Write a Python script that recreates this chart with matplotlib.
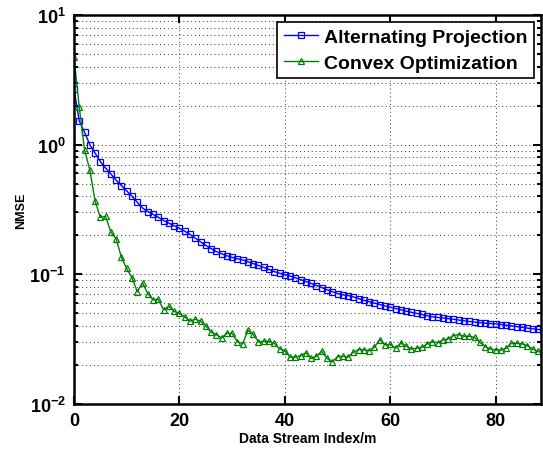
import numpy as np
import matplotlib
matplotlib.use("Agg")
import matplotlib.pyplot as plt
from matplotlib.ticker import FixedLocator, NullFormatter

plt.rcParams['font.family'] = ['Liberation Sans', 'DejaVu Sans']
plt.rcParams['font.weight'] = 'bold'
plt.rcParams['mathtext.fontset'] = 'custom'
plt.rcParams['mathtext.rm'] = 'Liberation Sans:bold'
plt.rcParams['mathtext.bf'] = 'Liberation Sans:bold'

# NMSE per data stream index
ap_nmse = [2.69, 1.52, 1.245, 1.0, 0.86, 0.74, 0.66, 0.594, 0.532, 0.483,
           0.44, 0.40, 0.36, 0.325, 0.305, 0.29, 0.275, 0.26, 0.248, 0.237,
           0.227, 0.215, 0.203, 0.19, 0.178, 0.167, 0.158, 0.150, 0.144, 0.139,
           0.135, 0.132, 0.129, 0.125, 0.121, 0.117, 0.113, 0.109, 0.105, 0.102,
           0.0995, 0.097, 0.094, 0.091, 0.088, 0.085, 0.082, 0.079, 0.076, 0.0735,
           0.071, 0.0694, 0.0686, 0.067, 0.065, 0.063, 0.0615, 0.060, 0.0585, 0.057,
           0.0557, 0.0545, 0.0533, 0.052, 0.051, 0.050, 0.049, 0.048, 0.047, 0.0465,
           0.0461, 0.0455, 0.045, 0.0444, 0.0438, 0.0433, 0.0428, 0.0424, 0.042, 0.0417,
           0.0415, 0.041, 0.0405, 0.040, 0.0395, 0.039, 0.0385, 0.038, 0.0376, 0.037]

co_nmse = [4.72, 1.94, 0.91, 0.64, 0.368, 0.275, 0.28, 0.211, 0.188, 0.135,
           0.111, 0.094, 0.0736, 0.086, 0.071, 0.0637, 0.064, 0.0533, 0.0565, 0.0517,
           0.050, 0.047, 0.0436, 0.045, 0.0436, 0.040, 0.0358, 0.0343, 0.0324, 0.0350,
           0.0350, 0.0302, 0.0292, 0.0370, 0.0344, 0.0302, 0.0304, 0.0305, 0.0294, 0.0266,
           0.0258, 0.0230, 0.0230, 0.0236, 0.0248, 0.0225, 0.0233, 0.0255, 0.0225, 0.0212,
           0.0232, 0.0233, 0.0230, 0.0251, 0.0263, 0.0262, 0.0258, 0.0274, 0.0314, 0.0286,
           0.0289, 0.0269, 0.0294, 0.0280, 0.0266, 0.0269, 0.0274, 0.0291, 0.0303, 0.0296,
           0.0312, 0.0318, 0.0337, 0.0343, 0.0333, 0.0333, 0.0327, 0.0299, 0.0277, 0.0266,
           0.0261, 0.0261, 0.0269, 0.0294, 0.0294, 0.0291, 0.0282, 0.0266, 0.0254, 0.0248]

idx = np.arange(len(ap_nmse))

fig = plt.figure(figsize=(5.43, 4.52), dpi=100)
ax = fig.add_axes([0.1363, 0.104, 0.8600, 0.8606])

ax.semilogy(idx, ap_nmse, '-s', color='blue', markersize=3.8, markerfacecolor='none',
            linewidth=1.0, markeredgewidth=0.9, label='Alternating Projection')
ax.semilogy(idx, co_nmse, '-^', color=(0, 0.5, 0), markersize=5, markerfacecolor='none',
            linewidth=1.0, markeredgewidth=0.9, label='Convex Optimization')

ax.set_xlim(0, 88.6)
ax.set_ylim(1e-2, 1e1)
ax.xaxis.set_major_locator(FixedLocator([0, 20, 40, 60, 80]))
ax.yaxis.set_major_locator(FixedLocator([1e-2, 1e-1, 1e0, 1e1]))
ax.set_yticklabels([r'$10^{-2}$', r'$10^{-1}$', r'$10^{0}$', r'$10^{1}$'])
minor = [m * 10.0 ** e for e in (-2, -1, 0) for m in range(2, 10)]
ax.yaxis.set_minor_locator(FixedLocator(minor))
ax.yaxis.set_minor_formatter(NullFormatter())

# matlab style dotted grid
ax.grid(True, which='major', linestyle=(0, (1, 3)), color='0.2', linewidth=0.7)
ax.grid(True, which='minor', axis='y', linestyle=(0, (1, 3)), color='0.2', linewidth=0.7)
ax.tick_params(which='both', direction='in', top=True, right=True, labelsize=13, width=1.5)
ax.tick_params(which='major', length=6, pad=6)
ax.tick_params(which='minor', length=3)
for s in ax.spines.values():
    s.set_linewidth(1.8)

ax.set_xlabel('Data Stream Index/m', fontsize=10, fontweight='bold', labelpad=1)
ax.set_ylabel('NMSE', fontsize=9, fontweight='bold', labelpad=2)

leg = ax.legend(loc='upper right', fontsize=14, fancybox=False, framealpha=1,
                edgecolor='black', borderpad=0.35, handlelength=1.75, handletextpad=0.3,
                labelspacing=0.4, borderaxespad=0.35)
leg.get_frame().set_linewidth(1.2)
for t in leg.get_texts():
    t.set_fontweight('bold')

fig.savefig('out.png', dpi=100)
